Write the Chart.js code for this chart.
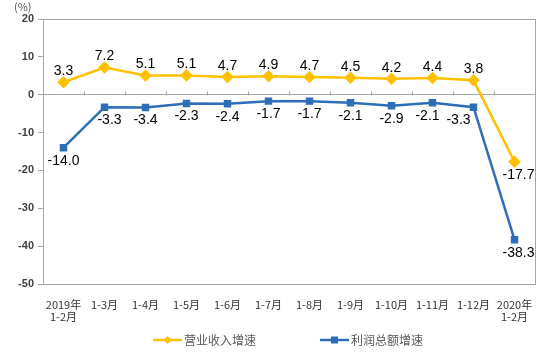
<!DOCTYPE html>
<html>
<head>
<meta charset="utf-8">
<script src="https://cdn.jsdelivr.net/npm/chart.js@4/dist/chart.umd.min.js"></script>
<style>
  html, body { margin: 0; padding: 0; background: #fff; }
  #wrap { width: 558px; height: 354px; }
</style>
</head>
<body>
<div id="wrap"><canvas id="chart" width="558" height="354"></canvas></div>
<script>
const labels = [
  ['2019年', '1-2月'], '1-3月', '1-4月', '1-5月', '1-6月', '1-7月',
  '1-8月', '1-9月', '1-10月', '1-11月', '1-12月', ['2020年', '1-2月']
];
const revenueGrowth = [3.3, 7.2, 5.1, 5.1, 4.7, 4.9, 4.7, 4.5, 4.2, 4.4, 3.8, -17.7];
const profitGrowth = [-14.0, -3.3, -3.4, -2.3, -2.4, -1.7, -1.7, -2.1, -2.9, -2.1, -3.3, -38.3];
const seriesNames = ['营业收入增速', '利润总额增速'];
const yTicks = [20, 10, 0, -10, -20, -30, -40, -50];

const YELLOW = '#FFC000';
const BLUE = '#2E6DB9';
const GRAY = '#A6A6A6';

// frame, zero line ticks, data labels, legend, unit
const extras = {
  id: 'extras',
  afterDraw(chart) {
    const ctx = chart.ctx;
    const area = chart.chartArea;
    const x = chart.scales.x;
    const y = chart.scales.y;
    ctx.save();

    // plot frame
    ctx.strokeStyle = GRAY;
    ctx.lineWidth = 1;
    ctx.strokeRect(Math.round(area.left) + 0.5, Math.round(area.top) + 0.5,
      Math.round(area.right - area.left), Math.round(area.bottom - area.top));

    // ticks on the zero line, between categories
    const y0 = Math.round(y.getPixelForValue(0)) + 0.5;
    const step = x.getPixelForValue(1) - x.getPixelForValue(0);
    ctx.beginPath();
    for (let i = 1; i < labels.length; i++) {
      const px = Math.round(x.getPixelForValue(i) - step / 2) + 0.5;
      ctx.moveTo(px, y0);
      ctx.lineTo(px, y0 - 4);
    }
    ctx.stroke();

    // unit
    ctx.fillStyle = '#595959';
    ctx.font = '11px "Noto Sans CJK SC"';
    ctx.textAlign = 'left';
    ctx.textBaseline = 'middle';
    ctx.fillText('(%)', 14, 7);

    // legend
    const items = [
      { color: YELLOW, x: 153, style: 'diamond' },
      { color: BLUE, x: 320, style: 'square' }
    ];
    items.forEach((it, i) => {
      const ly = 340;
      ctx.strokeStyle = it.color;
      ctx.fillStyle = it.color;
      ctx.lineWidth = 2.5;
      ctx.beginPath();
      ctx.moveTo(it.x, ly);
      ctx.lineTo(it.x + 29, ly);
      ctx.stroke();
      const cx = it.x + 14.5;
      ctx.beginPath();
      if (it.style === 'diamond') {
        ctx.moveTo(cx, ly - 4); ctx.lineTo(cx + 4, ly);
        ctx.lineTo(cx, ly + 4); ctx.lineTo(cx - 4, ly);
        ctx.closePath();
      } else {
        ctx.rect(cx - 3.5, ly - 3.5, 7, 7);
      }
      ctx.fill();
      ctx.fillStyle = '#595959';
      ctx.font = '12px "Noto Sans CJK SC"';
      ctx.textAlign = 'left';
      ctx.textBaseline = 'middle';
      ctx.fillText(seriesNames[i], it.x + 31, ly);
    });

    // data labels
    ctx.font = '14px "Liberation Sans"';
    ctx.fillStyle = '#000';
    ctx.textAlign = 'center';
    ctx.textBaseline = 'middle';
    const last = labels.length - 1;
    chart.data.datasets.forEach((ds, di) => {
      const meta = chart.getDatasetMeta(di);
      meta.data.forEach((pt, i) => {
        const v = ds.data[i];
        let dx = 0;
        let dy = (di === 0 && v >= 0) ? -11 : 13;
        if (i === last) dx = 4;
        if (di === 1 && i === last - 1) dx = -15;
        if (di === 1 && i === last - 2) dx = -5;
        if (di === 1 && i === 1) dx = 5;
        ctx.fillText(v.toFixed(1), pt.x + dx, pt.y + dy);
      });
    });

    ctx.restore();
  }
};

new Chart(document.getElementById('chart'), {
  type: 'line',
  data: {
    labels: labels,
    datasets: [
      {
        label: seriesNames[0],
        data: revenueGrowth,
        borderColor: YELLOW,
        backgroundColor: YELLOW,
        borderWidth: 2.5,
        pointStyle: 'rectRot',
        pointRadius: 4.5,
        pointHoverRadius: 4.5,
        tension: 0
      },
      {
        label: seriesNames[1],
        data: profitGrowth,
        borderColor: BLUE,
        backgroundColor: BLUE,
        borderWidth: 2.5,
        pointStyle: 'rect',
        pointRadius: 3.5,
        pointHoverRadius: 3.5,
        tension: 0
      }
    ]
  },
  options: {
    responsive: false,
    animation: false,
    layout: { padding: { top: 19, right: 23, left: 0, bottom: 30 } },
    plugins: {
      legend: { display: false },
      tooltip: { enabled: false }
    },
    scales: {
      x: {
        offset: true,
        grid: { display: false },
        border: { display: false },
        ticks: {
          color: '#333',
          font: { family: '"Noto Sans CJK SC"', size: 11, lineHeight: 1.15 },
          maxRotation: 0,
          autoSkip: false,
          padding: 6
        },
        afterFit(scale) { scale.height = 40; }
      },
      y: {
        min: -50,
        max: 20,
        afterBuildTicks(scale) { scale.ticks = yTicks.map(v => ({ value: v })); },
        grid: {
          color: c => (c.tick && c.tick.value === 0 ? GRAY : 'transparent'),
          tickColor: GRAY,
          tickLength: 5,
          drawTicks: true
        },
        border: { display: true, color: GRAY },
        ticks: {
          color: '#404040',
          font: { family: '"Liberation Sans"', size: 11, weight: 'bold' },
          padding: 4
        },
        afterFit(scale) { scale.width = 43; }
      }
    }
  },
  plugins: [extras]
});
</script>
</body>
</html>
